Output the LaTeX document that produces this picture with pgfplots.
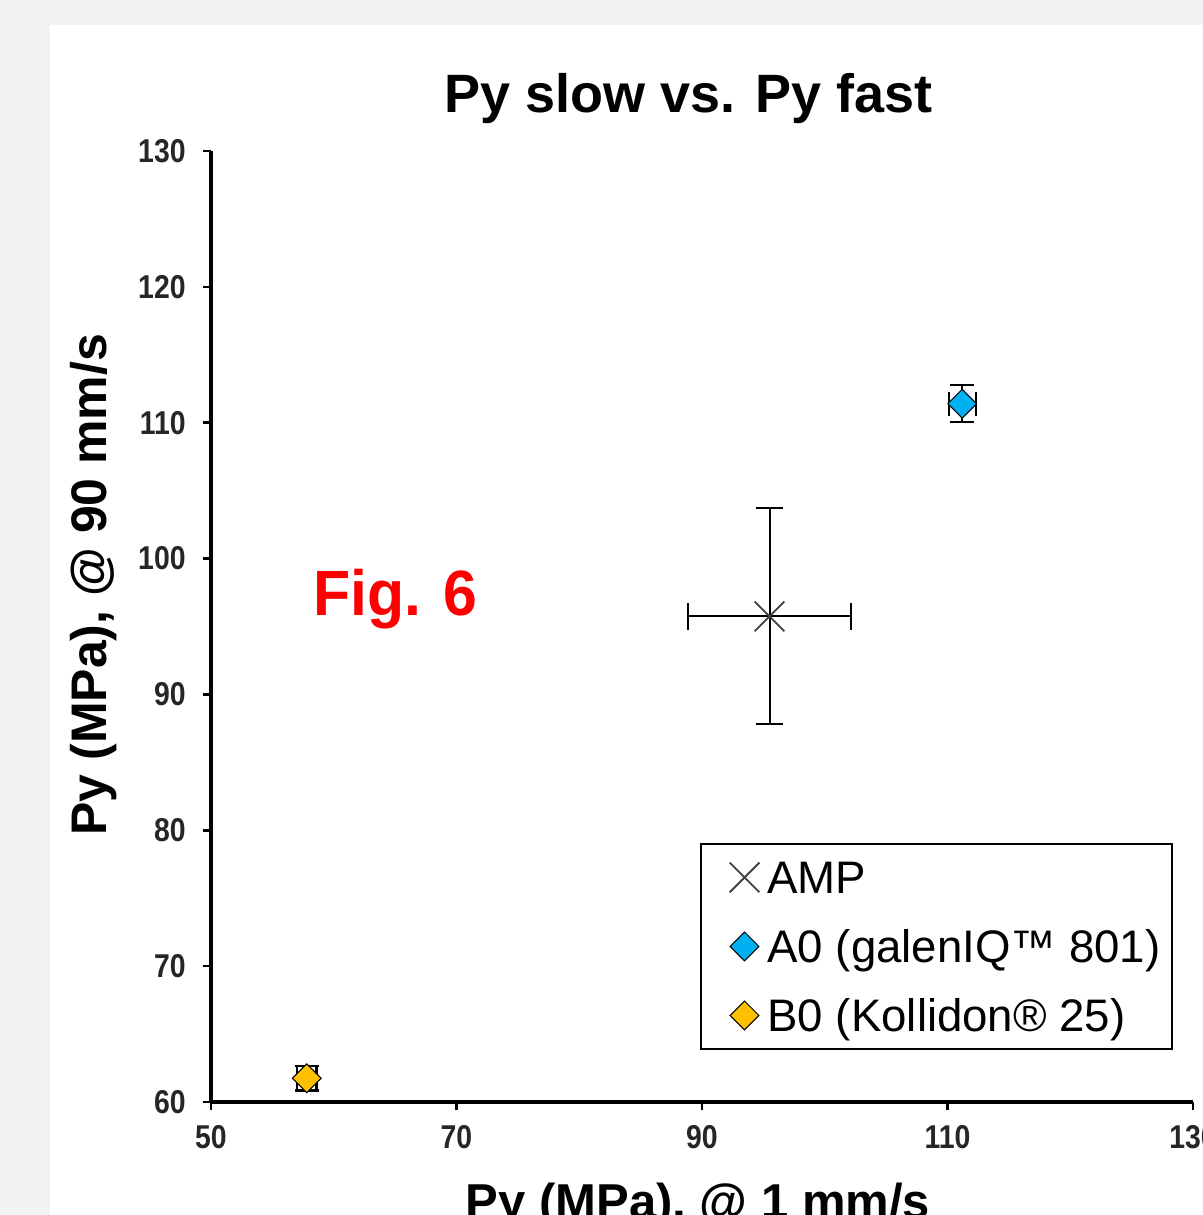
\documentclass[border=0pt]{standalone}
\usepackage{fontspec}
\setmainfont{Liberation Sans}
\usepackage{graphicx}
\usepackage{pgfplots}
\pgfplotsset{compat=1.18}
\definecolor{bggray}{HTML}{F2F2F2}
\definecolor{aoblue}{HTML}{00B0F0}
\definecolor{bogold}{HTML}{FFC000}
\definecolor{ampgray}{HTML}{404040}

\begin{document}
\begin{tikzpicture}
% screenshot background: grey frame, white chart area
\fill[bggray] (-105.5pt,-56.5pt) rectangle (496pt,551pt);
\fill[white] (-80.5pt,-56.5pt) rectangle (496pt,538.5pt);
\begin{scope}
\clip (-105.5pt,-56.5pt) rectangle (496pt,551pt);
\begin{axis}[
  scale only axis,
  width=491pt, height=475.5pt,
  xmin=50, xmax=130, ymin=60, ymax=130,
  xtick={50,70,90,110,130},
  ytick={60,70,...,130},
  axis x line*=bottom, axis y line*=left,
  axis line style={line width=1.75pt, black},
  tick align=outside, major tick length=4pt,
  tick style={black, line width=1.25pt},
  /pgf/number format/assume math mode=true,
  tick label style={font=\fontsize{16.5}{18}\selectfont\bfseries, text=black!85},
  xticklabel={\scalebox{0.86}[1]{\pgfmathprintnumber{\tick}}},
  yticklabel={\scalebox{0.86}[1]{\pgfmathprintnumber{\tick}}},
  xticklabel style={anchor=north, inner sep=0pt, yshift=-7.5pt},
  yticklabel style={anchor=east, inner sep=0pt, xshift=-8.5pt},
  title={Py slow vs. Py fast},
  title style={at={(axis description cs:0.486,1.041)}, anchor=base, yshift=-6pt,
    font=\fontsize{27}{30}\selectfont\bfseries},
  xlabel={Py (MPa), @ 1 mm/s},
  ylabel={Py (MPa), @ 90 mm/s},
  xlabel style={at={(axis description cs:0.496,-0.122)}, anchor=base,
    font=\fontsize{24.5}{28}\selectfont\bfseries},
  ylabel style={at={(axis description cs:-0.106,0.544)}, anchor=base,
    font=\fontsize{25}{28}\selectfont\bfseries},
  clip=false,
  legend style={at={(axis description cs:0.4975,0.0547)}, anchor=south west,
    draw=black, line width=1pt, inner xsep=6pt, inner ysep=4pt, row sep=9pt,
    font=\fontsize{22.8}{24}\selectfont,
    nodes={inner sep=0pt, text height=21pt, text depth=4.5pt}},
  legend cell align=left,
  legend image code/.code={\path (-15.5pt,-8pt) (11pt,8pt);
    \draw[#1] plot coordinates {(0pt,0pt)};},
]
\addplot[only marks, mark=x, mark size=10.5pt,
  mark options={draw=ampgray, line width=0.9pt},
  error bars/.cd, x dir=both, x explicit, y dir=both, y explicit,
  error bar style={black, line width=1pt},
  error mark options={rotate=90, black, line width=1.1pt, mark size=6.75pt}]
  coordinates {(95.5,95.75) +- (6.65,7.95)};
\addlegendentry{AMP}

\addplot[only marks, mark=square*, mark size=5.1pt,
  mark options={rotate=45, fill=aoblue, draw=black, line width=0.5pt},
  error bars/.cd, x dir=both, x explicit, y dir=both, y explicit,
  error bar style={black, line width=1pt},
  error mark options={rotate=90, black, line width=1.1pt, mark size=6pt}]
  coordinates {(111.2,111.4) +- (1.1,1.35)};
\addlegendentry{A0 (galenIQ™ 801)}

\addplot[only marks, mark=square*, mark size=5.1pt,
  mark options={rotate=45, fill=bogold, draw=black, line width=0.5pt},
  error bars/.cd, x dir=both, x explicit, y dir=both, y explicit,
  error bar style={black, line width=1pt},
  error mark options={rotate=90, black, line width=1.1pt, mark size=6pt}]
  coordinates {(57.8,61.75) +- (0.8,0.9)};
\addlegendentry{B0 (Kollidon® 25)}

\node[anchor=base west, text=red, font=\fontsize{32}{36}\selectfont\bfseries]
  at (axis cs:57.75,95.8) {\scalebox{0.95}[1]{Fig. 6}};
\end{axis}
\end{scope}
\pgfresetboundingbox
\useasboundingbox (-105.5pt,-56.5pt) rectangle (496pt,551pt);
\end{tikzpicture}
\end{document}
